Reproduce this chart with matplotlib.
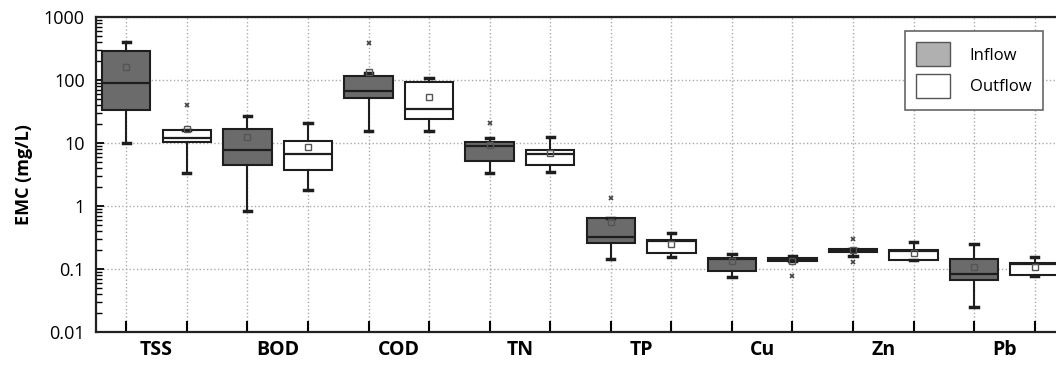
import matplotlib
matplotlib.use("Agg")
from matplotlib import pyplot as plt
from matplotlib.patches import Patch
from matplotlib.ticker import LogLocator, FixedLocator, NullFormatter

plt.rcParams['font.family'] = ['Open Sans', 'DejaVu Sans']

params = ['TSS', 'BOD', 'COD', 'TN', 'TP', 'Cu', 'Zn', 'Pb']

# per parameter: [inflow, outflow]
whislo = [[10, 3.4], [0.82, 1.77], [15.7, 15.7], [3.3, 3.46], [0.144, 0.153],
          [0.074, 0.132], [0.16, 0.138], [0.025, 0.077]]
q1 = [[33, 10.5], [4.5, 3.7], [52.5, 24.3], [5.25, 4.5], [0.26, 0.177],
      [0.094, 0.132], [0.185, 0.138], [0.066, 0.08]]
med = [[91, 12], [7.7, 6.8], [67, 35], [9.0, 6.6], [0.32, 0.28],
       [0.145, 0.14], [0.196, 0.195], [0.084, 0.12]]
q3 = [[288, 16], [16.5, 10.8], [116, 93], [10.4, 7.65], [0.64, 0.29],
      [0.152, 0.149], [0.21, 0.2], [0.143, 0.123]]
whishi = [[405, 16], [27, 20.6], [130, 106], [11.9, 12.3], [0.64, 0.37],
          [0.171, 0.16], [0.21, 0.27], [0.246, 0.154]]
means = [[158, 16.7], [12.3, 8.7], [135, 54], [9.3, 7.0], [0.557, 0.246],
         [0.134, 0.134], [0.2, 0.18], [0.109, 0.109]]
fliers = [[[], [40]], [[], []], [[380], []], [[21], []], [[1.34], []],
          [[], [0.078]], [[0.30, 0.128], []], [[], []]]

inflow_color = '#6b6b6b'
edge = '#1e1e1e'

fig = plt.figure(figsize=(10.56, 3.65), dpi=100)
ax = fig.add_axes([0.0909, 0.0904, 0.9176, 0.863])

for j, fc in enumerate([inflow_color, 'white']):
    stats = []
    for i in range(len(params)):
        stats.append({'whislo': whislo[i][j], 'q1': q1[i][j], 'med': med[i][j],
                      'q3': q3[i][j], 'whishi': whishi[i][j], 'mean': means[i][j],
                      'fliers': fliers[i][j]})
    pos = [2 * i + 1 + j for i in range(len(params))]
    ax.bxp(stats, positions=pos, widths=0.8, patch_artist=True, showmeans=True,
           boxprops=dict(facecolor=fc, edgecolor=edge, linewidth=1.5),
           medianprops=dict(color=edge, linewidth=1.6),
           whiskerprops=dict(color=edge, linewidth=1.5),
           capprops=dict(color=edge, linewidth=2.5),
           capwidths=0.12,
           meanprops=dict(marker='s', markersize=4.5, markerfacecolor='none',
                          markeredgecolor='#555555', markeredgewidth=1),
           flierprops=dict(marker='x', markersize=3.5, markeredgecolor='#444444',
                           markeredgewidth=1.2))

ax.set_yscale('log')
ax.set_ylim(0.01, 1000)
ax.set_xlim(0.5, 16.5)
ax.yaxis.set_minor_locator(LogLocator(base=10, subs=range(2, 10), numticks=20))
ax.yaxis.set_minor_formatter(NullFormatter())
ax.set_yticks([0.01, 0.1, 1, 10, 100, 1000])
ax.set_yticklabels(['0.01', '0.1', '1', '10', '100', '1000'], fontsize=13)
ax.tick_params(axis='y', which='major', direction='in', length=6, width=1.3, pad=8)
ax.tick_params(axis='y', which='minor', direction='in', length=4, width=1)

ax.xaxis.set_major_locator(FixedLocator(range(1, 17)))
ax.xaxis.set_minor_locator(FixedLocator([2 * i + 1.5 for i in range(len(params))]))
ax.set_xticklabels([], minor=False)
ax.set_xticklabels(params, minor=True, fontsize=14, fontweight='bold')
ax.tick_params(axis='x', which='major', direction='in', length=8, width=1.5)
ax.tick_params(axis='x', which='minor', length=0, pad=6)

ax.grid(True, which='major', linestyle=':', color='#aaaaaa', linewidth=1)
ax.set_axisbelow(True)
for s in ax.spines.values():
    s.set_linewidth(1.6)
    s.set_color('#222222')

ax.set_ylabel('EMC (mg/L)', fontsize=13, fontweight='bold', labelpad=8)

handles = [Patch(facecolor='#b0b0b0', edgecolor='#555555', label='Inflow'),
           Patch(facecolor='white', edgecolor='#555555', label='Outflow')]
leg = ax.legend(handles=handles, loc='upper right', bbox_to_anchor=(0.986, 0.983),
                fontsize=12, handlelength=2.0, handleheight=1.8, borderpad=0.7,
                labelspacing=0.5, handletextpad=1.2, fancybox=False, framealpha=1)
leg.get_frame().set_edgecolor('#666666')
leg.get_frame().set_linewidth(1.2)

fig.savefig('out.png', dpi=100)
